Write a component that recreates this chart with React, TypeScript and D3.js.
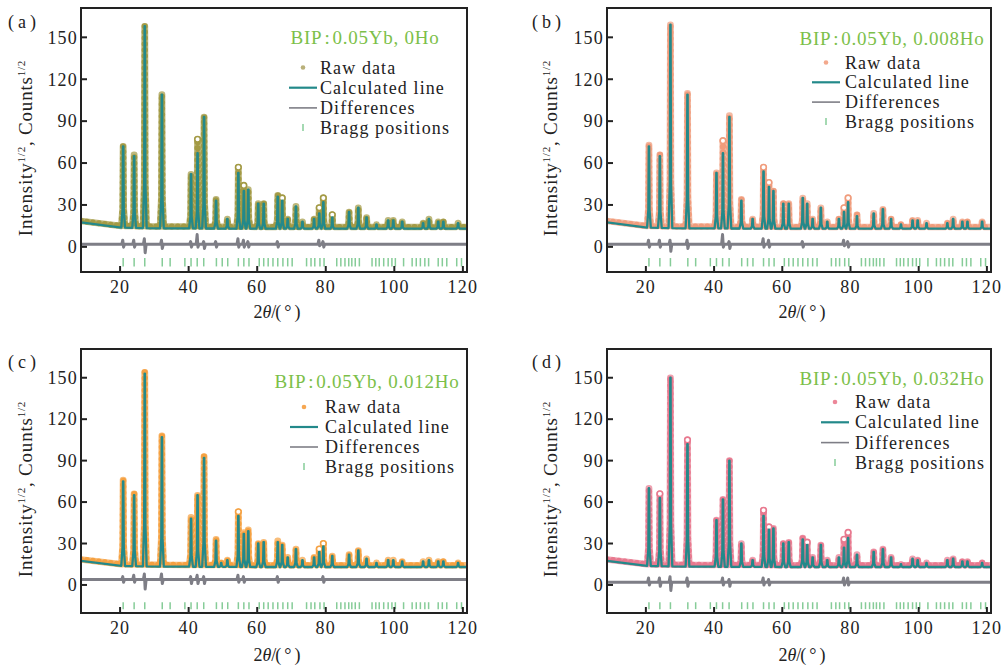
import React from 'react';
import * as d3 from 'd3';

const X_DOMAIN: [number, number] = [8.6, 121.2];
const X_TICKS = [20, 40, 60, 80, 100, 120];
const Y_TICKS = [0, 30, 60, 90, 120, 150];

const PANEL_LABELS = ['a', 'b', 'c', 'd'];
const SAMPLE_NAMES = ['BIP', 'BIP', 'BIP', 'BIP'];
const SAMPLE_COMPOSITIONS = ['0.05Yb, 0Ho', '0.05Yb, 0.008Ho', '0.05Yb, 0.012Ho', '0.05Yb, 0.032Ho'];
const LEGEND_LABELS = ['Raw data', 'Calculated line', 'Differences', 'Bragg positions'];

// Bragg reflection positions (2θ)
const BRAGG = [20.9, 24.1, 27.2, 32.3, 34.6, 38.9, 40.7, 42.5, 44.4, 48.1, 49.8, 51.4, 54.5, 56.1, 57.6,
  60.6, 61.9, 63.2, 64.6, 66.0, 67.5, 68.9, 70.2, 74.4, 75.7, 76.8, 78.3, 79.5, 83.2, 84.4, 85.6, 86.7,
  87.6, 88.6, 89.8, 93.5, 94.6, 95.6, 96.9, 98.2, 99.3, 100.3, 102.7, 105.2, 106.4, 107.6, 108.9, 110.0,
  112.8, 114.0, 115.3, 118.2, 119.6];

// peaks: [2θ, calculated, raw]
const peaksA = [
  [20.9, 72, 72], [24.1, 65, 66], [27.2, 158, 158], [32.2, 109, 109], [40.7, 52, 52], [42.6, 67, 77],
  [44.5, 93, 93], [48.0, 33, 34], [51.3, 20, 20], [54.5, 53, 57], [56.1, 40, 44], [57.4, 41, 41],
  [60.3, 31, 31], [61.9, 31, 31], [66.0, 36, 37], [67.3, 33, 35], [68.9, 20, 20], [71.3, 29, 29],
  [73.2, 18, 18], [76.6, 20, 20], [78.1, 24, 28], [79.3, 32, 35], [81.9, 21, 23], [86.8, 25, 25],
  [89.5, 28, 28], [91.9, 21, 21], [94.8, 16, 16], [98.2, 19, 19], [99.7, 19, 19], [102.3, 18, 18],
  [108.4, 17, 17], [110.1, 20, 20], [112.8, 18, 18], [114.3, 18, 18], [118.6, 17, 17],
];
const peaksB = [
  [20.9, 72, 73], [24.1, 65, 66], [27.2, 159, 159], [32.2, 109, 110], [40.7, 53, 53], [42.6, 67, 76],
  [44.5, 93, 94], [48.0, 33, 34], [51.3, 20, 20], [54.5, 54, 57], [56.1, 43, 46], [57.4, 40, 40],
  [60.3, 31, 31], [61.9, 31, 31], [66.0, 35, 35], [67.3, 31, 31], [68.9, 20, 20], [71.3, 28, 28],
  [73.2, 18, 18], [76.6, 20, 20], [78.1, 25, 28], [79.3, 32, 35], [81.9, 22, 23], [86.8, 24, 24],
  [89.5, 27, 27], [91.9, 20, 20], [94.8, 16, 16], [98.2, 19, 19], [99.7, 19, 19], [102.3, 17, 17],
  [108.4, 17, 17], [110.1, 20, 20], [112.8, 18, 18], [114.3, 18, 18], [118.6, 18, 18],
];
const peaksC = [
  [20.9, 75, 76], [24.1, 65, 66], [27.2, 153, 154], [32.2, 107, 108], [40.7, 48, 49], [42.6, 65, 65],
  [44.5, 92, 93], [48.0, 32, 33], [49.5, 16, 16], [51.3, 18, 18], [54.5, 50, 53], [56.1, 37, 38], [57.4, 39, 40],
  [60.3, 30, 30], [61.9, 31, 31], [66.0, 31, 32], [67.3, 29, 29], [68.9, 20, 20], [71.3, 26, 26],
  [73.2, 18, 18], [76.6, 20, 20], [78.1, 24, 26], [79.3, 28, 30], [81.9, 21, 21], [86.8, 22, 22],
  [89.5, 25, 25], [91.9, 19, 19], [94.8, 16, 16], [98.2, 18, 18], [99.7, 18, 18], [102.3, 17, 17],
  [108.4, 17, 17], [110.1, 18, 18], [112.8, 17, 17], [114.3, 17, 17], [118.6, 16, 16],
];
const peaksD = [
  [20.9, 70, 70], [24.1, 63, 66], [27.2, 150, 150], [32.2, 102, 105], [40.7, 47, 47], [42.6, 62, 62],
  [44.5, 90, 90], [48.0, 30, 30], [51.3, 18, 18], [54.5, 50, 54], [56.1, 40, 42], [57.4, 41, 41],
  [60.3, 30, 30], [61.9, 31, 31], [66.0, 33, 34], [67.3, 29, 31], [68.9, 20, 20], [71.3, 29, 29],
  [73.2, 18, 18], [76.6, 20, 20], [78.1, 27, 33], [79.3, 34, 38], [81.9, 22, 22], [86.8, 24, 24],
  [89.5, 26, 26], [91.9, 20, 20], [94.8, 15, 15], [98.2, 19, 19], [99.7, 18, 18], [102.3, 16, 16],
  [108.4, 18, 18], [110.1, 19, 19], [112.8, 17, 17], [114.3, 17, 17], [118.6, 16, 16],
];

// background levels [2θ, value]
const calcBg = [[8.6, 17.5], [12, 15.6], [16, 14.5], [20, 13.8], [30, 13.3], [60, 13], [121.2, 13]];
const rawBg = [[8.6, 18.5], [12, 16.8], [16, 15.6], [20, 15], [30, 14.6], [60, 14.3], [121.2, 14.3]];

// difference spikes [2θ, up, down]
const diffA = [[20.9, 3, -2], [24.1, 3, -2], [27.2, 4, -6], [32.2, 3, -3], [40.7, 2, -2], [42.6, 7, -2],
  [44.5, 2, -3], [48.0, 2, -2], [54.5, 4, -2], [56.1, 3, -2], [57.4, 2, -2], [66.0, 2, -2], [78.1, 3, -1], [79.3, 2, -2]];
const diffB = [[20.9, 3, -2], [24.1, 3, -2], [27.2, 3, -5], [32.2, 3, -3], [42.6, 7, -2], [44.5, 2, -3],
  [54.5, 4, -2], [56.1, 3, -2], [66.0, 2, -2], [78.1, 3, -1], [79.3, 2, -2]];
const diffC = [[20.9, 2, -2], [24.1, 3, -2], [27.2, 4, -7], [32.2, 4, -3], [40.7, 2, -3], [42.6, 3, -3],
  [44.5, 2, -3], [54.5, 3, -2], [56.1, 2, -2], [66.0, 2, -2], [79.3, 2, -2]];
const diffD = [[20.9, 3, -2], [24.1, 3, -3], [27.2, 4, -6], [32.2, 3, -3], [42.6, 3, -2], [44.5, 2, -3],
  [54.5, 3, -2], [56.1, 2, -2], [78.1, 3, -2], [79.3, 3, -2]];

const PANELS = [
  { x0: 81, x1: 467, y0: 8, y1: 272, yDom: [-18, 171], peaks: peaksA, diff: diffA, diffBase: 1.8, bragg: [-8, -14],
    raw: '#a39a45', rawLegend: '#b9b07a', label: [8, 22], yTitle: [25, 148], xTitle: 312,
    title: [365, 44], sym: 303, text: 320, rows: [73.5, 20.2] },
  { x0: 607, x1: 991, y0: 8, y1: 272, yDom: [-18, 171], peaks: peaksB, diff: diffB, diffBase: 1.8, bragg: [-8, -14],
    raw: '#f09c7c', rawLegend: '#f3a98d', label: [532, 22], yTitle: [550, 148], xTitle: 312,
    title: [892, 45], sym: 826, text: 845, rows: [68.5, 19.8] },
  { x0: 81, x1: 467, y0: 349, y1: 613, yDom: [-20.3, 170.8], peaks: peaksC, diff: diffC, diffBase: 4, bragg: [-12.5, -17.5],
    raw: '#f5a142', rawLegend: '#f6a752', label: [8, 362], yTitle: [25, 489], xTitle: 655,
    title: [367, 388], sym: 304, text: 325, rows: [413, 20] },
  { x0: 607, x1: 991, y0: 349, y1: 613, yDom: [-20.3, 170.8], peaks: peaksD, diff: diffD, diffBase: 2, bragg: [-12.5, -17.5],
    raw: '#e8798f', rawLegend: '#ec8799', label: [532, 362], yTitle: [550, 489], xTitle: 655,
    title: [892, 385], sym: 835, text: 855, rows: [408, 20.3] },
];

const CALC = '#23898a';
const DIFF = '#7e7e86';
const BRAGG_C = '#86cc98';
const FONT = '"Liberation Serif", "DejaVu Serif", serif';

function profile(peaks: number[][], idx: number, bgPts: number[][]) {
  const bg = d3.scaleLinear().domain(bgPts.map(d => d[0])).range(bgPts.map(d => d[1]));
  const pts: [number, number][] = [[X_DOMAIN[0], bg(X_DOMAIN[0])]];
  const sorted = [...peaks].sort((a, b) => a[0] - b[0]);
  for (const p of sorted) {
    const h = p[idx];
    const b = bg(p[0]);
    pts.push([p[0] - 0.55, bg(p[0] - 0.55)]);
    pts.push([p[0] - 0.18, b + (h - b) * 0.22]);
    pts.push([p[0] - 0.05, h]);
    pts.push([p[0] + 0.05, h]);
    pts.push([p[0] + 0.18, b + (h - b) * 0.22]);
    pts.push([p[0] + 0.55, bg(p[0] + 0.55)]);
  }
  pts.push([X_DOMAIN[1], bg(X_DOMAIN[1])]);
  return pts;
}

function diffLine(spikes: number[][], base: number) {
  const pts: [number, number][] = [[X_DOMAIN[0], base]];
  for (const s of spikes) {
    pts.push([s[0] - 0.4, base]);
    pts.push([s[0] - 0.12, base + s[1]]);
    pts.push([s[0] + 0.12, base + s[2]]);
    pts.push([s[0] + 0.4, base]);
  }
  pts.push([X_DOMAIN[1], base]);
  return pts;
}

function Panel({ p, i }: { p: any; i: number }) {
  const x = d3.scaleLinear().domain(X_DOMAIN).range([p.x0, p.x1]);
  const y = d3.scaleLinear().domain(p.yDom).range([p.y1, p.y0]);
  const line = d3.line<[number, number]>().x(d => x(d[0])).y(d => y(d[1]));
  const calcPath = line(profile(p.peaks, 1, calcBg)) || '';
  const rawPath = line(profile(p.peaks, 2, rawBg)) || '';
  const diffPath = line(diffLine(p.diff, p.diffBase)) || '';
  const clip = `clip${i}`;
  const rowY = (k: number) => p.rows[0] + k * p.rows[1];
  const cx = (p.x0 + p.x1) / 2;
  return (
    <g>
      <defs>
        <clipPath id={clip}><rect x={p.x0} y={p.y0} width={p.x1 - p.x0} height={p.y1 - p.y0} /></clipPath>
      </defs>
      <g clipPath={`url(#${clip})`}>
        <path d={rawPath} fill="none" stroke={p.raw} strokeWidth={6.5} strokeOpacity={0.7} strokeLinejoin="round" />
        <path d={rawPath} fill="none" stroke={p.raw} strokeWidth={6} strokeDasharray="0 6" strokeLinecap="round" />
        {p.peaks.filter((d: number[]) => d[2] - d[1] >= 2).map((d: number[], k: number) => (
          <circle key={k} cx={x(d[0])} cy={y(d[2])} r={2.8} fill="white" stroke={p.raw} strokeWidth={1.6} />
        ))}
        <path d={calcPath} fill="none" stroke={CALC} strokeWidth={2.3} strokeLinejoin="round" />
        <path d={diffPath} fill="none" stroke={DIFF} strokeWidth={3} strokeLinejoin="round" />
        {BRAGG.map((b, k) => (
          <line key={k} x1={x(b)} x2={x(b)} y1={y(p.bragg[0])} y2={y(p.bragg[1])} stroke={BRAGG_C} strokeWidth={1.5} />
        ))}
      </g>
      <rect x={p.x0} y={p.y0} width={p.x1 - p.x0} height={p.y1 - p.y0} fill="none" stroke="#222" strokeWidth={2} />
      {Y_TICKS.map(t => (
        <g key={t}>
          <line x1={p.x0} x2={p.x0 + 6} y1={y(t)} y2={y(t)} stroke="#222" strokeWidth={2} />
          <text x={p.x0 - 3} y={y(t)} dy="0.35em" textAnchor="end" fontSize={18} letterSpacing={1.2} fill="#222">{t}</text>
        </g>
      ))}
      {X_TICKS.map(t => (
        <g key={t}>
          <line x1={x(t)} x2={x(t)} y1={p.y1} y2={p.y1 - 6} stroke="#222" strokeWidth={2} />
          <text x={x(t)} y={p.y1 + 21} textAnchor="middle" fontSize={18} letterSpacing={1.2} fill="#222">{t}</text>
        </g>
      ))}
      <text x={cx + 3} y={p.xTitle} dy="0.35em" textAnchor="middle" fontSize={18} fill="#222">
        2<tspan fontStyle="italic">θ</tspan>/<tspan dx={-1}>(</tspan><tspan dx={3}>°</tspan><tspan dx={3}>)</tspan>
      </text>
      <text transform={`translate(${p.yTitle[0]},${p.yTitle[1]}) rotate(-90)`} dy="0.35em" textAnchor="middle" fontSize={19} letterSpacing={0.8} fill="#222">
        Intensity<tspan fontSize={11} dy="-7">1/2</tspan><tspan dy="7">, Counts</tspan><tspan fontSize={11} dy="-7">1/2</tspan>
      </text>
      <text x={p.label[0]} y={p.label[1]} dy="0.35em" fontSize={18} fill="#222">
        (<tspan dx={4}>{PANEL_LABELS[i]}</tspan><tspan dx={4}>)</tspan>
      </text>
      <text x={p.title[0]} y={p.title[1]} textAnchor="middle" fontSize={19} fill="#7cbf4a" letterSpacing={0.75}>
        {SAMPLE_NAMES[i]}<tspan dx={2}>:</tspan><tspan dx={2}>{SAMPLE_COMPOSITIONS[i]}</tspan>
      </text>
      <circle cx={p.sym} cy={rowY(0) - 6} r={2.3} fill={p.rawLegend} />
      <line x1={p.sym - 14} x2={p.sym + 14} y1={rowY(1) - 6} y2={rowY(1) - 6} stroke={CALC} strokeWidth={2.2} />
      <line x1={p.sym - 14} x2={p.sym + 14} y1={rowY(2) - 6} y2={rowY(2) - 6} stroke={DIFF} strokeWidth={1.6} />
      <line x1={p.sym} x2={p.sym} y1={rowY(3) - 10} y2={rowY(3) - 3} stroke={BRAGG_C} strokeWidth={1.5} />
      {LEGEND_LABELS.map((l, k) => (
        <text key={l} x={p.text} y={rowY(k)} fontSize={18} letterSpacing={1.1} fill="#222">{l}</text>
      ))}
    </g>
  );
}

export default function App() {
  return (
    <svg width={1006} height={666} style={{ position: 'absolute', left: 0, top: 0, background: 'white' }} fontFamily={FONT}>
      <rect width={1006} height={666} fill="white" />
      {PANELS.map((p, i) => <Panel key={i} p={p} i={i} />)}
    </svg>
  );
}
